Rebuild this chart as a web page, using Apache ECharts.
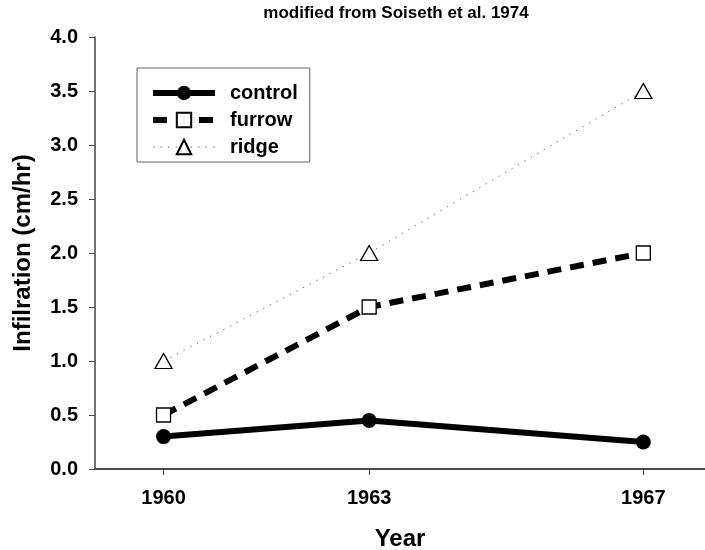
<!DOCTYPE html>
<html>
<head>
<meta charset="utf-8">
<script src="https://cdn.jsdelivr.net/npm/echarts@6/dist/echarts.min.js"></script>
<style>
  html, body { margin: 0; padding: 0; background: #fff; }
  #chart { width: 705px; height: 550px; }
</style>
</head>
<body>
<div id="chart"></div>
<script>
const years = [1960, 1963, 1967];
const control = [0.3, 0.45, 0.25];
const furrow = [0.5, 1.5, 2.0];
const ridge = [1.0, 2.0, 3.5];

const font = '"Liberation Sans", Arial, sans-serif';
const pairs = (vals) => years.map((y, i) => [y, vals[i]]);

const chart = echarts.init(document.getElementById('chart'));

chart.setOption({
  animation: false,
  title: {
    text: 'modified from Soiseth et al. 1974',
    left: 391,
    top: 0,
    textAlign: 'center',
    textStyle: { fontFamily: font, fontWeight: 'bold', fontSize: 17, color: '#000' },
  },
  legend: {
    orient: 'vertical',
    left: 137,
    top: 68,
    padding: [15, 12, 5, 13],
    itemGap: 7,
    itemWidth: 62,
    itemHeight: 18,
    borderColor: '#666',
    borderWidth: 1,
    textStyle: { fontFamily: font, fontWeight: 'bold', fontSize: 20, color: '#000', padding: [0, 0, 0, 10] },
    data: [
      { name: 'control', lineStyle: { width: 6 } },
      { name: 'furrow', lineStyle: { width: 6 } },
      { name: 'ridge', lineStyle: { width: 1 } },
    ],
  },
  grid: { left: 95, right: 0, top: 37, bottom: 81, outerBoundsMode: 'none' },
  xAxis: [
    {
      type: 'value',
      min: 1959,
      max: 1967.9,
      name: 'Year',
      nameLocation: 'middle',
      nameGap: 58,
      nameTextStyle: { fontFamily: font, fontWeight: 'bold', fontSize: 24, color: '#000' },
      splitLine: { show: false },
      axisLine: { show: true, onZero: false, lineStyle: { color: '#444', width: 1.5 } },
      axisTick: { show: true, length: 6, lineStyle: { color: '#444' }, customValues: years },
      axisLabel: {
        fontFamily: font, fontWeight: 'bold', fontSize: 20, color: '#000', margin: 19,
        customValues: years,
        formatter: (v) => String(v),
      },
    },
    {
      type: 'value',
      position: 'top',
      min: 1959,
      max: 1967.9,
      splitLine: { show: false },
      axisLine: { show: true, lineStyle: { color: '#444', width: 1.5 } },
      axisTick: { show: false },
      axisLabel: { show: false },
    },
  ],
  yAxis: {
    type: 'value',
    min: 0,
    max: 4,
    interval: 0.5,
    name: 'Infilration (cm/hr)',
    nameLocation: 'middle',
    nameGap: 60,
    nameTextStyle: { fontFamily: font, fontWeight: 'bold', fontSize: 24, color: '#000' },
    splitLine: { show: false },
    axisLine: { show: true, lineStyle: { color: '#444', width: 1.5 } },
    axisTick: { show: true, length: 6, lineStyle: { color: '#444' } },
    axisLabel: {
      fontFamily: font, fontWeight: 'bold', fontSize: 20, color: '#000', margin: 17,
      formatter: (v) => v.toFixed(1),
    },
  },
  series: [
    {
      name: 'control',
      type: 'line',
      data: pairs(control),
      symbol: 'circle',
      symbolSize: 15,
      itemStyle: { color: '#000', borderColor: '#000', borderWidth: 0 },
      lineStyle: { color: '#000', width: 6 },
      z: 3,
    },
    {
      name: 'furrow',
      type: 'line',
      data: pairs(furrow),
      symbol: 'rect',
      symbolSize: 14,
      itemStyle: { color: '#fff', borderColor: '#000', borderWidth: 1.3 },
      lineStyle: { color: '#000', width: 6, type: [14, 9] },
      z: 4,
    },
    {
      name: 'ridge',
      type: 'line',
      data: pairs(ridge),
      symbol: 'triangle',
      symbolSize: [17, 15],
      itemStyle: { color: '#fff', borderColor: '#000', borderWidth: 1.3 },
      lineStyle: { color: '#777', width: 1, type: [1.5, 6] },
      z: 5,
    },
  ],
});
</script>
</body>
</html>
